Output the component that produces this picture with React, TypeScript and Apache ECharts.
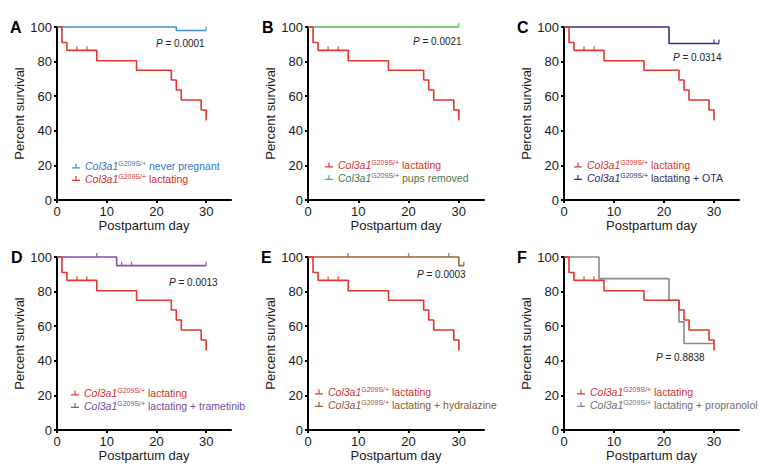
import React, { useEffect, useRef } from 'react';
import * as echarts from 'echarts';

const FONT = 'Liberation Sans, Arial, Helvetica, sans-serif';

// Shared reference group: Col3a1 G209S/+ lactating
const lactDays = [0, 1, 2, 8, 16, 23, 24, 25, 29, 30];
const lactSurv = [100, 91, 86.5, 80.5, 75, 69.4, 63.6, 57.8, 52, 46];
const lactCensorDays = [4, 6];
const lactCensorSurv = [86.5, 86.5];

// A: never pregnant
const neverDays = [0, 24, 30];
const neverSurv = [100, 98, 98];
const neverCensorDays = [30];
const neverCensorSurv = [98];

// B: pups removed
const pupsDays = [0, 30];
const pupsSurv = [100, 100];
const pupsCensorDays = [30];
const pupsCensorSurv = [100];

// C: lactating + OTA
const otaDays = [0, 21, 31];
const otaSurv = [100, 90.5, 90.5];
const otaCensorDays = [30, 31];
const otaCensorSurv = [90.5, 90.5];

// D: lactating + trametinib
const tramDays = [0, 12, 30];
const tramSurv = [100, 95, 95];
const tramCensorDays = [8, 13, 15, 30];
const tramCensorSurv = [100, 95, 95, 95];

// E: lactating + hydralazine
const hydDays = [0, 30, 31];
const hydSurv = [100, 95, 95];
const hydCensorDays = [8, 20, 28, 31];
const hydCensorSurv = [100, 100, 100, 95];

// F: lactating + propranolol
const propDays = [0, 7, 21, 23, 24, 30];
const propSurv = [100, 87.5, 75, 62.5, 50, 50];
const propCensorDays = [30];
const propCensorSurv = [50];

const panelLetters = ['A', 'B', 'C', 'D', 'E', 'F'];
const pValues = ['0.0001', '0.0021', '0.0314', '0.0013', '0.0003', '0.8838'];
const xTicks = [0, 10, 20, 30];
const genotype = 'Col3a1';
const allele = 'G209S/+';
const lactLabel = 'lactating';
const comparatorLabels = [
  'never pregnant',
  'pups removed',
  'lactating + OTA',
  'lactating + trametinib',
  'lactating + hydralazine',
  'lactating + propranolol',
];
const xName = 'Postpartum day';
const yName = 'Percent survival';

const cmpDays = [neverDays, pupsDays, otaDays, tramDays, hydDays, propDays];
const cmpSurv = [neverSurv, pupsSurv, otaSurv, tramSurv, hydSurv, propSurv];
const cmpCDays = [neverCensorDays, pupsCensorDays, otaCensorDays, tramCensorDays, hydCensorDays, propCensorDays];
const cmpCSurv = [neverCensorSurv, pupsCensorSurv, otaCensorSurv, tramCensorSurv, hydCensorSurv, propCensorSurv];

// styling / layout
const lactColor = '#e2362f';
const lactText = '#d3302e';
const cmpColors = ['#3f8fd2', '#4dba4d', '#2e3192', '#8b4ea6', '#9e6331', '#8a8a8a'];
const cmpText = ['#3677bb', '#4e7548', '#2b2d70', '#7a4a9c', '#8a5a32', '#6e6e6e'];
const gridLefts = [57, 308, 564, 57, 308, 564];
const gridTops = [27, 27, 27, 257, 257, 257];
const gridWidths = [174, 176, 175, 174, 176, 175];
const gridHeight = 173;
const letterPos = [[10, 19], [262, 19], [517, 19], [11, 249], [261, 249], [517, 249]];
const legendPos = [[72, 160], [325, 159], [574, 159], [71, 387], [315, 386], [577, 386]];
const pPos = [[156, 44], [413, 42], [673, 58], [169, 283], [417, 275], [656, 358]];

const zip = (xs: number[], ys: number[]) => xs.map((x, i) => [x, ys[i]]);
const ICON = 'path://M0,3.8 H8 V5 H0 Z M3.4,0 H4.6 V3.8 H3.4 Z';

export default function App() {
  const ref = useRef<HTMLDivElement>(null);
  useEffect(() => {
    if (!ref.current) return;
    const chart = echarts.init(ref.current, undefined, { renderer: 'svg' });
    const grid: any[] = [];
    const xAxis: any[] = [];
    const yAxis: any[] = [];
    const series: any[] = [];
    const legend: any[] = [];
    const title: any[] = [];
    const graphic: any[] = [];

    const rich = {
      i: { fontStyle: 'italic', fontSize: 10.5, lineHeight: 12, fontFamily: FONT },
      s: { fontSize: 7, verticalAlign: 'top', lineHeight: 8, fontFamily: FONT },
      n: { fontSize: 10.5, lineHeight: 12, fontFamily: FONT },
    };

    for (let i = 0; i < 6; i++) {
      grid.push({ left: gridLefts[i], top: gridTops[i], width: gridWidths[i], height: gridHeight, containLabel: false });
      xAxis.push({
        gridIndex: i,
        type: 'value',
        min: 0,
        max: 35,
        interval: 10,
        name: xName,
        nameLocation: 'middle',
        nameGap: 17,
        nameTextStyle: { fontSize: 13, color: '#1a1a1a', fontFamily: FONT },
        axisLine: { lineStyle: { color: '#000', width: 2 } },
        axisTick: { length: 3, lineStyle: { color: '#000', width: 2 }, customValues: xTicks },
        axisLabel: { fontSize: 13, color: '#1a1a1a', margin: 5, fontFamily: FONT, customValues: xTicks },
        splitLine: { show: false },
      });
      yAxis.push({
        gridIndex: i,
        type: 'value',
        min: 0,
        max: 100,
        interval: 20,
        name: yName,
        nameLocation: 'middle',
        nameGap: 22,
        nameTextStyle: { fontSize: 13, color: '#1a1a1a', fontFamily: FONT },
        axisLine: { lineStyle: { color: '#000', width: 2 } },
        axisTick: { length: 3, lineStyle: { color: '#000', width: 2 } },
        axisLabel: { fontSize: 13, color: '#1a1a1a', margin: 5, fontFamily: FONT },
        splitLine: { show: false },
      });
      const cmpName = `${i}-cmp`;
      const lactName = `${i}-lact`;
      series.push({
        name: cmpName,
        type: 'line',
        step: 'end',
        xAxisIndex: i,
        yAxisIndex: i,
        data: zip(cmpDays[i], cmpSurv[i]),
        symbol: 'none',
        clip: false,
        color: cmpColors[i],
        lineStyle: { width: 1.6, color: cmpColors[i] },
      });
      series.push({
        name: cmpName,
        type: 'scatter',
        xAxisIndex: i,
        yAxisIndex: i,
        data: zip(cmpCDays[i], cmpCSurv[i]),
        symbol: 'rect',
        symbolSize: [1.4, 4],
        symbolOffset: [0, -2],
        clip: false,
        itemStyle: { color: cmpColors[i] },
      });
      series.push({
        name: lactName,
        type: 'line',
        step: 'end',
        xAxisIndex: i,
        yAxisIndex: i,
        data: zip(lactDays, lactSurv),
        symbol: 'none',
        clip: false,
        color: lactColor,
        lineStyle: { width: 1.6, color: lactColor },
      });
      series.push({
        name: lactName,
        type: 'scatter',
        xAxisIndex: i,
        yAxisIndex: i,
        data: zip(lactCensorDays, lactCensorSurv),
        symbol: 'rect',
        symbolSize: [1.4, 4],
        symbolOffset: [0, -2],
        clip: false,
        itemStyle: { color: lactColor },
      });
      const cmpItem = { name: cmpName, itemStyle: { color: cmpColors[i] }, textStyle: { color: cmpText[i] } };
      const lactItem = { name: lactName, itemStyle: { color: lactColor }, textStyle: { color: lactText } };
      legend.push({
        left: legendPos[i][0],
        top: legendPos[i][1],
        orient: 'vertical',
        itemWidth: 8,
        itemHeight: 5,
        itemGap: 1,
        padding: 0,
        icon: ICON,
        selectedMode: false,
        data: i === 0 ? [cmpItem, lactItem] : [lactItem, cmpItem],
        formatter: (name: string) => {
          const [idx, g] = name.split('-');
          const suffix = g === 'lact' ? lactLabel : comparatorLabels[+idx];
          return `{i|${genotype}}{s|${allele}}{n| ${suffix}}`;
        },
        textStyle: { fontSize: 10.5, fontFamily: FONT, rich },
      });
      title.push({
        text: panelLetters[i],
        left: letterPos[i][0],
        top: letterPos[i][1],
        padding: 0,
        textStyle: { fontSize: 16, fontWeight: 'bold', color: '#000', fontFamily: FONT },
      });
      graphic.push({
        type: 'text',
        left: pPos[i][0],
        top: pPos[i][1] - 6,
        style: {
          text: `{i|P} = ${pValues[i]}`,
          fontSize: 10,
          fill: '#222',
          fontFamily: FONT,
          rich: { i: { fontStyle: 'italic', fontSize: 10, fontFamily: FONT } },
        },
      });
    }

    chart.setOption({
      animation: false,
      backgroundColor: '#fff',
      grid,
      xAxis,
      yAxis,
      series,
      legend,
      title,
      graphic,
    });
    return () => chart.dispose();
  }, []);
  return <div ref={ref} style={{ position: 'fixed', left: 0, top: 0, width: 771, height: 467 }} />;
}
